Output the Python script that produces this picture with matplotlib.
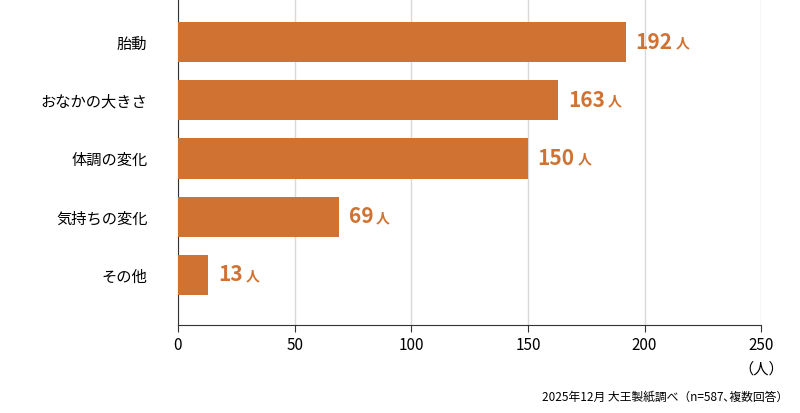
import matplotlib.pyplot as plt

plt.rcParams['font.family'] = ['Noto Sans CJK JP', 'DejaVu Sans']

categories = ["胎動", "おなかの大きさ", "体調の変化", "気持ちの変化", "その他"]
values = [192, 163, 150, 69, 13]
xticks = [0, 50, 100, 150, 200, 250]
color = "#D07231"

fig = plt.figure(figsize=(8, 4.13), dpi=100)
ax = fig.add_axes([0.2225, 0.213, 0.729, 0.787])

ypos = range(len(categories))
ax.barh(ypos, values, height=0.69, color=color, zorder=3)
for y, v in zip(ypos, values):
    t = ax.annotate(str(v), (v, y), xytext=(7, 0), textcoords="offset points",
                    va="center", ha="left", fontsize=15, fontweight="bold", color=color)
    ax.annotate("人", (1, 0.5), xycoords=t, xytext=(2, -1), textcoords="offset points",
                va="center", ha="left", fontsize=10, fontweight="bold", color=color)

ax.set_yticks(list(ypos))
ax.set_yticklabels(categories, fontsize=11)
ax.set_ylim(4.862, -0.724)
ax.set_xlim(0, 250)
ax.set_xticks(xticks)
ax.set_xticklabels([str(x) for x in xticks], fontsize=11)
ax.tick_params(axis="y", length=0, pad=22)
ax.tick_params(axis="x", length=5, direction="out", color="#333333")
ax.grid(axis="x", color="#d9d9d9", linewidth=1, zorder=0)
for s in ["top", "right"]:
    ax.spines[s].set_visible(False)
ax.spines["left"].set_color("#333333")
ax.spines["bottom"].set_color("#333333")

fig.text(0.951, 0.095, "（人）", ha="center", fontsize=11)
fig.text(0.985, 0.03, "2025年12月 大王製紙調べ（n=587､複数回答）", ha="right", fontsize=8.5)

fig.savefig("out.png", dpi=100)
